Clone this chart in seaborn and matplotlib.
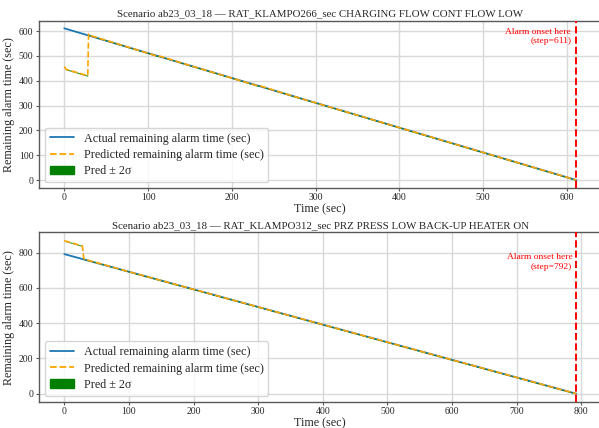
import numpy as np
import pandas as pd
import seaborn as sns
import matplotlib
matplotlib.use("Agg")
import matplotlib.pyplot as plt
from matplotlib.patches import Patch
from matplotlib.lines import Line2D

# ---------------- data ----------------
title_top = "Scenario ab23_03_18 \u2014 RAT_KLAMPO266_sec CHARGING FLOW CONT FLOW LOW"
title_bot = "Scenario ab23_03_18 \u2014 RAT_KLAMPO312_sec PRZ PRESS LOW BACK-UP HEATER ON"
alarm_top = 611
alarm_bot = 792

actual_steps_top = [0, 611]
actual_vals_top = [611, 0]
pred_steps_top = [0, 2, 28, 29, 31, 60, 90, 110, 112, 150, 180, 230, 232, 270, 300, 330,
                  360, 400, 450, 500, 550, 600, 611]
pred_vals_top = [457, 446, 420, 588, 582, 552, 521, 500, 501, 461, 431, 380, 381, 341,
                 311, 281, 251, 211, 161, 111, 61, 11, 0]
sigma_top = [1.2, 1.2, 1.2, 1.2, 0.8, 0.8, 0.8, 0.8, 0.8, 0.8, 0.8, 0.8, 0.8, 0.8, 0.8,
             0.8, 0.8, 0.8, 0.8, 0.8, 0.8, 0.8, 0.8]

actual_steps_bot = [0, 792]
actual_vals_bot = [792, 0]
pred_steps_bot = [0, 2, 28, 30, 31, 100, 200, 300, 400, 500, 600, 700, 792]
pred_vals_bot = [868, 866, 838, 770, 763, 692, 592, 492, 392, 292, 192, 92, 0]
sigma_bot = [1.5, 1.5, 1.5, 1.5, 1.0, 1.0, 1.0, 1.0, 1.0, 1.0, 1.0, 1.0, 1.0]

# ---------------- style ----------------
sns.set_theme(style="whitegrid")
plt.rcParams['font.family'] = ['Liberation Serif', 'DejaVu Serif']
plt.rcParams['mathtext.fontset'] = 'stix'
plt.rcParams['axes.edgecolor'] = '0.35'
plt.rcParams['grid.color'] = '0.85'

fig = plt.figure(figsize=(5.99, 4.28), dpi=100)
ax1 = fig.add_axes([0.0646, 0.5607, 0.940, 0.3909])
ax2 = fig.add_axes([0.0646, 0.0614, 0.940, 0.3954])


def draw(ax, title, alarm, a_steps, a_vals, p_steps, p_vals, sig):
    a_df = pd.DataFrame({"t": a_steps, "v": a_vals})
    p_df = pd.DataFrame({"t": p_steps, "v": p_vals, "s": sig})
    p_df["lo"] = p_df["v"] - 2 * p_df["s"]
    p_df["hi"] = p_df["v"] + 2 * p_df["s"]
    sns.lineplot(data=a_df, x="t", y="v", ax=ax, color="#1f77b4", linewidth=1.3, zorder=2)
    ax.fill_between(p_df["t"], p_df["lo"], p_df["hi"], color="green", alpha=0.85,
                    linewidth=0, zorder=2.5)
    sns.lineplot(data=p_df, x="t", y="v", ax=ax, color="orange", linewidth=1.2,
                 linestyle="--", zorder=3)
    ax.axvline(alarm, color="red", linestyle="--", linewidth=1.4, zorder=4)
    ax.text(alarm - 6, max(a_vals) * 1.005, f"Alarm onset here\n(step={alarm})",
            color="red", ha="right", va="top", fontsize=6.8, zorder=5)
    ax.set_title(title, fontsize=7.8, pad=3)
    ax.set_xlabel("Time (sec)", fontsize=8.7, labelpad=1)
    ax.set_ylabel("Remaining alarm time (sec)", fontsize=8.7, labelpad=3)
    ax.tick_params(axis="both", labelsize=7, length=2.5, width=0.8, pad=1.2,
                   left=True, bottom=True, color='0.35')
    for sp in ax.spines.values():
        sp.set_linewidth(1.0)
    handles = [
        Line2D([0], [0], color="#1f77b4", linewidth=1.3),
        Line2D([0], [0], color="orange", linewidth=1.3, linestyle="--"),
        Patch(facecolor="green", edgecolor="green"),
    ]
    labels = ["Actual remaining alarm time (sec)",
              "Predicted remaining alarm time (sec)",
              "Pred \u00b1 2\u03c3"]
    ax.legend(handles, labels, loc="lower left", fontsize=8.75, frameon=True,
              framealpha=0.8, borderpad=0.4, labelspacing=0.35, handlelength=2.0)


draw(ax1, title_top, alarm_top, actual_steps_top, actual_vals_top,
     pred_steps_top, pred_vals_top, sigma_top)
draw(ax2, title_bot, alarm_bot, actual_steps_bot, actual_vals_bot,
     pred_steps_bot, pred_vals_bot, sigma_bot)
ax1.set_yticks([0, 100, 200, 300, 400, 500, 600])
ax2.set_yticks([0, 200, 400, 600, 800])

fig.savefig("out.png", dpi=100)
